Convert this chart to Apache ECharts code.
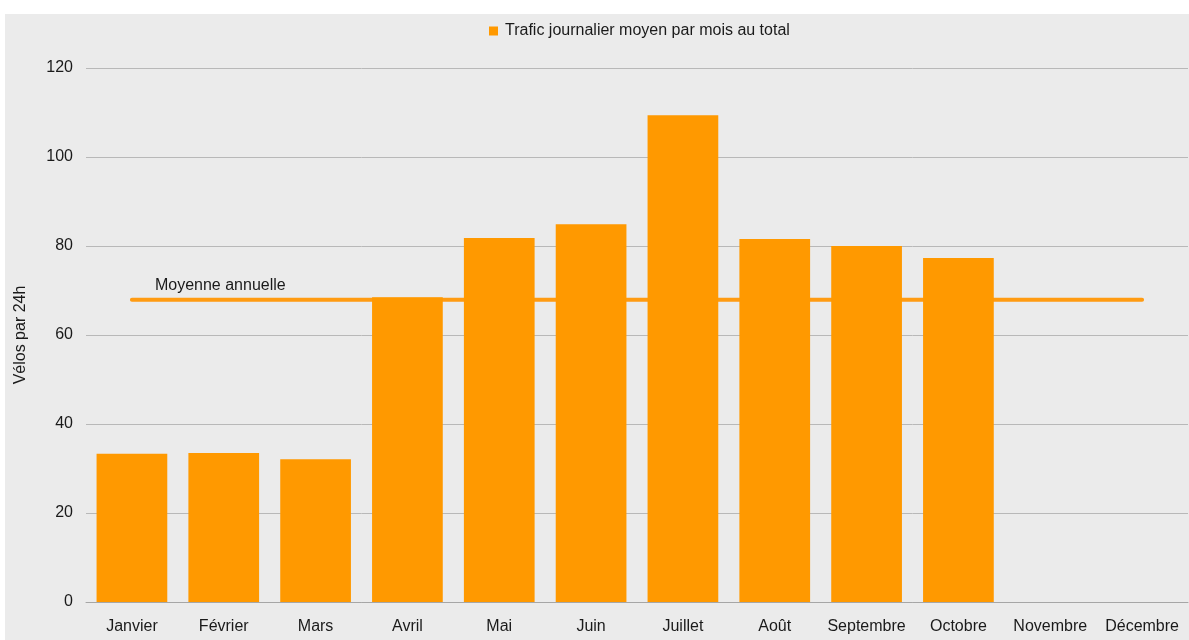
<!DOCTYPE html>
<html>
<head>
<meta charset="utf-8">
<script src="https://cdn.jsdelivr.net/npm/echarts@6/dist/echarts.min.js"></script>
<style>
html,body{margin:0;padding:0;background:#ffffff;}
#chart{position:absolute;left:5px;top:14px;width:1184px;height:626px;background:#ebebeb;}
</style>
</head>
<body>
<div id="chart"></div>
<script>
const categories = ['Janvier','Février','Mars','Avril','Mai','Juin','Juillet','Août','Septembre','Octobre','Novembre','Décembre'];
const trafic = [33.3, 33.5, 32.1, 68.5, 81.8, 84.9, 109.4, 81.6, 80.0, 77.3, null, null];
const moyenneAnnuelle = 67.9;
const yTicks = [0, 20, 40, 60, 80, 100, 120];

const font = 'Liberation Sans, Arial, sans-serif';
const meanData = categories.map((c, i) => i === 0 ? {
  value: moyenneAnnuelle,
  label: {show: true, formatter: 'Moyenne annuelle', position: 'top', align: 'left', offset: [23, -1], color: '#1a1a1a', fontSize: 16, fontFamily: font}
} : moyenneAnnuelle);

const chart = echarts.init(document.getElementById('chart'), null, {renderer: 'canvas'});
chart.setOption({
  backgroundColor: '#ebebeb',
  textStyle: {fontFamily: font},
  animation: false,
  legend: {
    data: ['Trafic journalier moyen par mois au total'],
    top: 4,
    left: 479,
    icon: 'rect',
    itemWidth: 9,
    itemHeight: 9,
    itemGap: 10,
    textStyle: {fontSize: 16, color: '#1a1a1a', fontFamily: font, padding: [0,0,0,2]}
  },
  grid: {left: 81, right: 1, top: 54, bottom: 38, containLabel: false, outerBoundsMode: 'none'},
  xAxis: {
    type: 'category',
    data: categories,
    axisLine: {show: true, lineStyle: {color: '#a6a6a6', width: 1}},
    axisTick: {show: false},
    axisLabel: {fontSize: 16, color: '#1a1a1a', margin: 17, fontFamily: font, interval: 0}
  },
  yAxis: {
    type: 'value',
    min: 0,
    max: 120,
    interval: 20,
    name: 'Vélos par 24h',
    nameLocation: 'middle',
    nameGap: 57,
    nameTextStyle: {fontSize: 16, color: '#1a1a1a', fontFamily: font},
    axisLine: {show: false},
    axisTick: {show: false},
    axisLabel: {fontSize: 16, color: '#1a1a1a', margin: 13, fontFamily: font,
      formatter: v => yTicks.includes(v) ? String(v) : ''},
    splitLine: {show: true, lineStyle: {color: '#b8b8b8', width: 1}}
  },
  series: [
    {
      name: 'Moyenne annuelle',
      type: 'line',
      data: meanData,
      showSymbol: true,
      symbol: 'circle',
      symbolSize: 0,
      lineStyle: {color: '#ff9b12', width: 4, cap: 'round'},
      itemStyle: {color: '#ff9b12'},
      z: 1,
      silent: true
    },
    {
      name: 'Trafic journalier moyen par mois au total',
      type: 'bar',
      data: trafic,
      barCategoryGap: '23%',
      itemStyle: {color: '#ff9900'},
      z: 2
    }
  ]
});
</script>
</body>
</html>
